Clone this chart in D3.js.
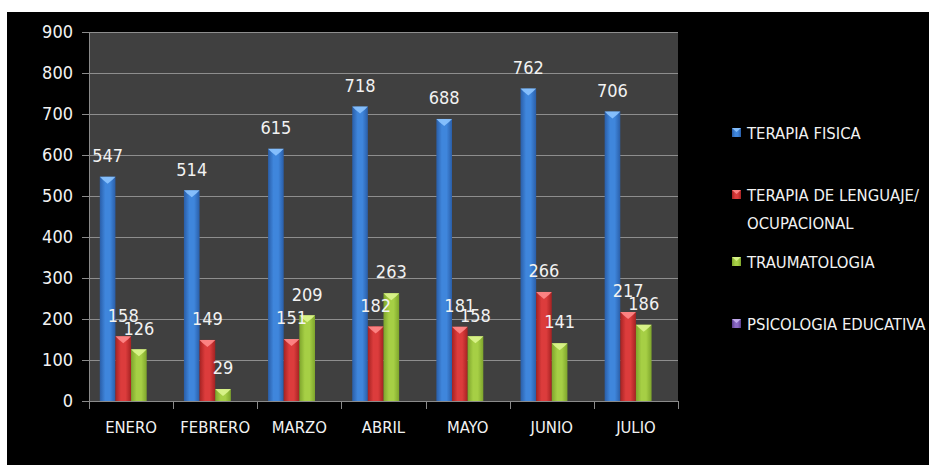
<!DOCTYPE html>
<html>
<head>
<meta charset="utf-8">
<script src="https://cdn.jsdelivr.net/npm/d3@7"></script>
<style>
  html, body { margin: 0; padding: 0; background: #ffffff; }
  svg { display: block; }
  text { font-family: "DejaVu Sans Condensed", "Liberation Sans Narrow", sans-serif; font-stretch: condensed; fill: #f2f2f2; }
</style>
</head>
<body>
<svg id="chart" width="929" height="465"></svg>
<script>
// ---- data ----
const months = ["ENERO", "FEBRERO", "MARZO", "ABRIL", "MAYO", "JUNIO", "JULIO"];
const seriesNames = ["TERAPIA FISICA", "TERAPIA DE LENGUAJE/ OCUPACIONAL", "TRAUMATOLOGIA", "PSICOLOGIA EDUCATIVA"];
const terapiaFisica = [547, 514, 615, 718, 688, 762, 706];
const terapiaLenguaje = [158, 149, 151, 182, 181, 266, 217];
const traumatologia = [126, 29, 209, 263, 158, 141, 186];
const psicologiaEducativa = [null, null, null, null, null, null, null]; // no values shown
const yTicks = [0, 100, 200, 300, 400, 500, 600, 700, 800, 900];

const seriesValues = [terapiaFisica, terapiaLenguaje, traumatologia, psicologiaEducativa];
const legendLines = [["TERAPIA FISICA"], ["TERAPIA DE LENGUAJE/", "OCUPACIONAL"], ["TRAUMATOLOGIA"], ["PSICOLOGIA EDUCATIVA"]];

// ---- styling ----
const palette = [
  { dark: "#2a5ea8", mid: "#3f86dc", light: "#8cc4ff" },
  { dark: "#a52222", mid: "#dc3c3c", light: "#ff8a8a" },
  { dark: "#7ea52c", mid: "#a6cf45", light: "#ddf58e" },
  { dark: "#5a3d8c", mid: "#8a68c4", light: "#c7b0f0" }
];

const svg = d3.select("#chart");
const W = 929, H = 465;

// background: white margin + black chart area
svg.append("rect").attr("x", 0).attr("y", 0).attr("width", W).attr("height", H).attr("fill", "#ffffff");
svg.append("rect").attr("x", 7).attr("y", 12).attr("width", W - 7).attr("height", H - 12).attr("fill", "#000000");

const defs = svg.append("defs");
palette.forEach((p, i) => {
  const g = defs.append("linearGradient").attr("id", "grad" + i).attr("x1", "0%").attr("x2", "100%").attr("y1", "0%").attr("y2", "0%");
  g.append("stop").attr("offset", "0%").attr("stop-color", p.dark);
  g.append("stop").attr("offset", "35%").attr("stop-color", p.mid);
  g.append("stop").attr("offset", "65%").attr("stop-color", p.mid);
  g.append("stop").attr("offset", "100%").attr("stop-color", p.dark);
});

const plot = { left: 89, right: 678, top: 32, bottom: 401 };

const x = d3.scaleBand().domain(months).range([plot.left, plot.right]).paddingInner(0).paddingOuter(0);
const xs = d3.scaleBand().domain(d3.range(seriesNames.length)).range([0, x.bandwidth()]).paddingInner(0).paddingOuter(0.69);
const y = d3.scaleLinear().domain([0, 900]).range([plot.bottom, plot.top]);

// plot area
svg.append("rect")
  .attr("x", plot.left).attr("y", plot.top)
  .attr("width", plot.right - plot.left).attr("height", plot.bottom - plot.top)
  .attr("fill", "#404040");

// gridlines
svg.append("g").selectAll("line").data(yTicks.filter(d => d > 0)).join("line")
  .attr("x1", plot.left).attr("x2", plot.right)
  .attr("y1", d => Math.round(y(d)) + 0.5).attr("y2", d => Math.round(y(d)) + 0.5)
  .attr("stroke", "#8e8e8e").attr("stroke-width", 1.2);

// y axis
const yAxis = d3.axisLeft(y).tickValues(yTicks).tickSize(7).tickPadding(9).tickFormat(d3.format("d"));
const gy = svg.append("g").attr("transform", `translate(${plot.left},0)`).call(yAxis);
gy.select(".domain").attr("stroke", "#8a8a8a");
gy.selectAll(".tick line").attr("stroke", "#8a8a8a");
gy.selectAll(".tick text").style("font-size", "18px").attr("fill", "#f2f2f2");

// x axis line and category ticks at band boundaries
svg.append("line").attr("x1", plot.left).attr("x2", plot.right)
  .attr("y1", plot.bottom + 0.5).attr("y2", plot.bottom + 0.5).attr("stroke", "#8a8a8a");
const boundaries = months.map(m => x(m)).concat([x(months[months.length - 1]) + x.bandwidth()]);
svg.append("g").selectAll("line").data(boundaries).join("line")
  .attr("x1", d => Math.round(d) + 0.5).attr("x2", d => Math.round(d) + 0.5)
  .attr("y1", plot.bottom).attr("y2", plot.bottom + 8)
  .attr("stroke", "#8a8a8a");
svg.append("g").selectAll("text").data(months).join("text")
  .attr("x", d => x(d) + x.bandwidth() / 2)
  .attr("y", plot.bottom + 26)
  .attr("dy", "0.35em")
  .attr("text-anchor", "middle")
  .style("font-size", "16.5px")
  .text(d => d);

// bars
const bars = [];
seriesValues.forEach((vals, si) => {
  vals.forEach((v, mi) => {
    if (v === null || v === undefined) return;
    bars.push({ si, month: months[mi], value: v });
  });
});

const bx = d => x(d.month) + xs(d.si);
const bw = xs.bandwidth();

svg.append("g").selectAll("rect").data(bars).join("rect")
  .attr("x", bx)
  .attr("y", d => y(d.value))
  .attr("width", bw)
  .attr("height", d => y(0) - y(d.value))
  .attr("fill", d => `url(#grad${d.si})`);

// lighter bevel cap on top of each bar
svg.append("g").selectAll("path").data(bars).join("path")
  .attr("d", d => {
    const x0 = bx(d), x1 = x0 + bw, yt = y(d.value);
    return `M${x0},${yt} L${x1},${yt} L${x1 - 3},${yt + 3} L${(x0 + x1) / 2},${yt + 7} L${x0 + 3},${yt + 3} Z`;
  })
  .attr("fill", d => palette[d.si].light)
  .attr("opacity", 0.9);

// data labels
svg.append("g").selectAll("text").data(bars).join("text")
  .attr("x", d => bx(d) + bw / 2)
  .attr("y", d => y(d.value) - 21)
  .attr("dy", "0.35em")
  .attr("text-anchor", "middle")
  .style("font-size", "18px")
  .attr("fill", "#f4f4f4")
  .text(d => d.value);

// legend
const legendY = [133, 195, 262, 324];
const lg = svg.append("g");
legendLines.forEach((lines, i) => {
  const cy = legendY[i];
  lg.append("rect")
    .attr("x", 732).attr("y", cy - 5).attr("width", 9).attr("height", 9)
    .attr("fill", `url(#grad${i})`);
  lg.append("path")
    .attr("d", `M732,${cy - 5} L741,${cy - 5} L736.5,${cy - 1} Z`)
    .attr("fill", palette[i].light).attr("opacity", 0.9);
  lines.forEach((t, li) => {
    lg.append("text")
      .attr("x", 747)
      .attr("y", cy + li * 28)
      .attr("dy", "0.35em")
      .style("font-size", "16.5px")
      .text(t);
  });
});
</script>
</body>
</html>
